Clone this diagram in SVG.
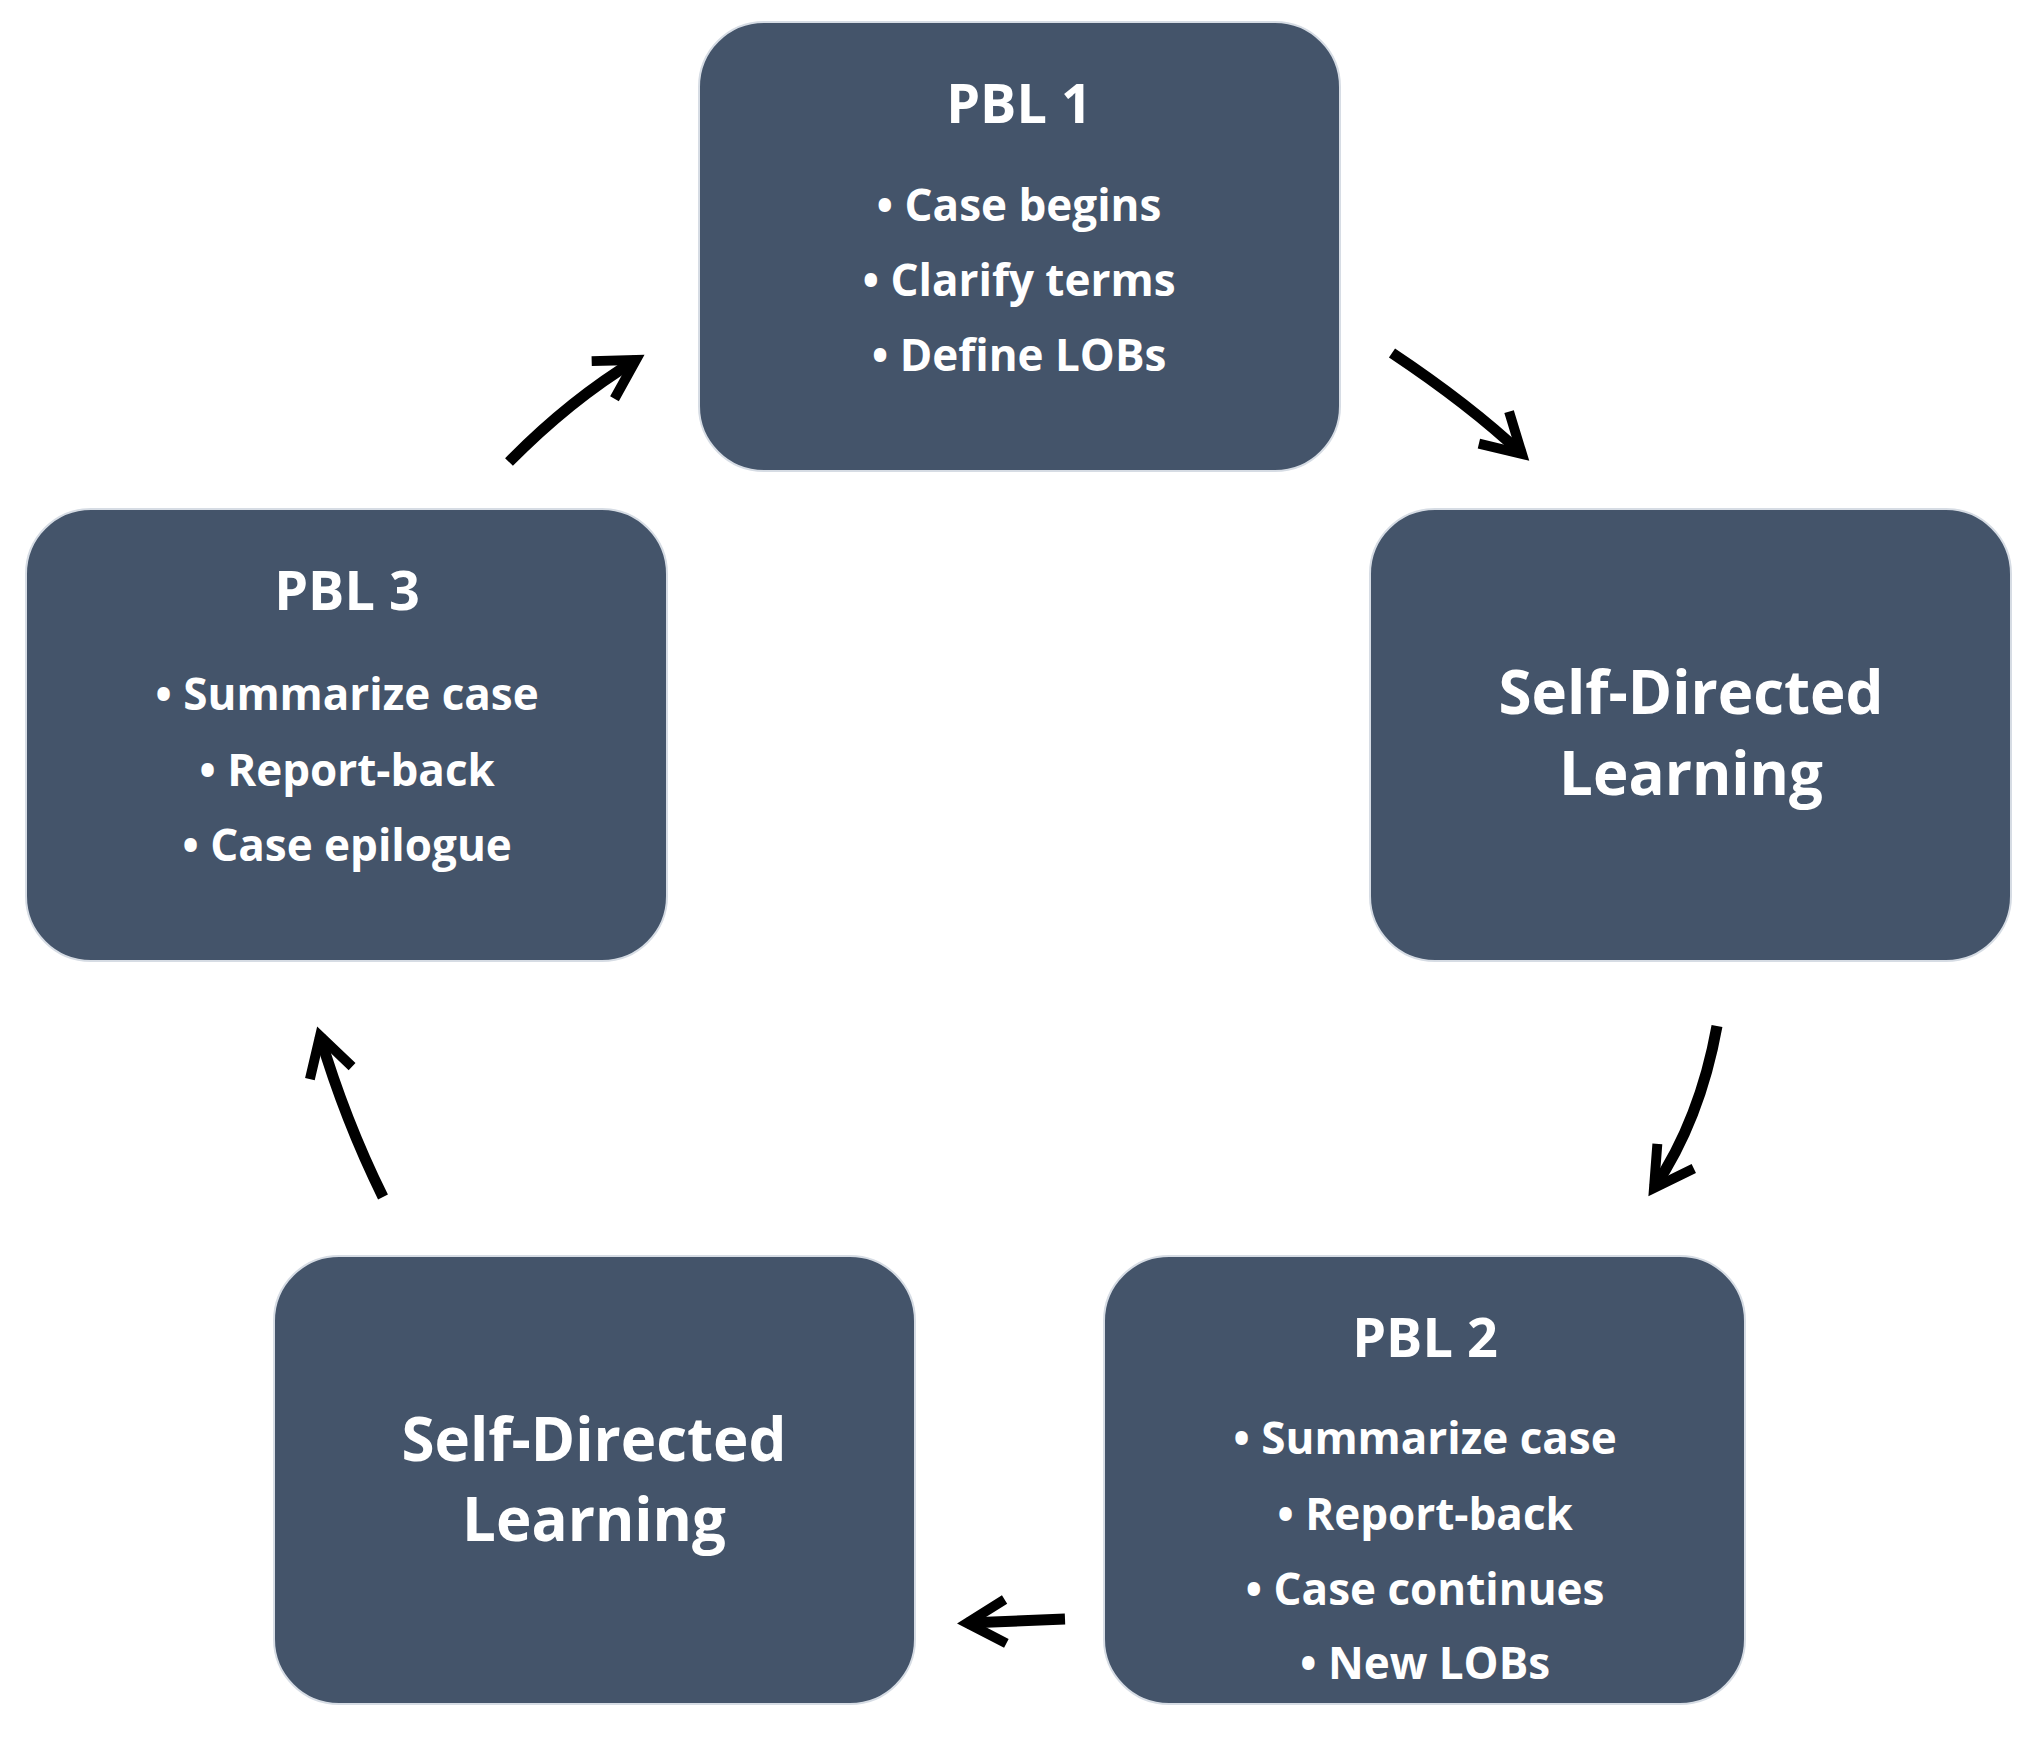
<svg xmlns="http://www.w3.org/2000/svg" width="2036" height="1743" viewBox="0 0 2036 1743">
<style>
.box{fill:#44546a;stroke:#d6dce4;stroke-width:2}
.t{font-family:"Open Sans","Liberation Sans",sans-serif;font-weight:bold;fill:#fff;text-anchor:middle}
.h{font-size:54px}.b{font-size:44px}.s{font-size:60px}
.c{fill:none;stroke:#000;stroke-width:11;stroke-linecap:butt}
</style>
<defs>
<marker id="ah" viewBox="0 0 10 10" refX="8" refY="5" markerWidth="5" markerHeight="5" orient="auto" markerUnits="strokeWidth">
<path d="M1,1 L8,5 L1,9" fill="none" stroke="#000" stroke-width="1.8" stroke-linejoin="miter"/>
</marker>
</defs>
<rect width="2036" height="1743" fill="#fff"/>
<g id="pbl1"><rect class="box" x="699" y="22" width="641" height="449" rx="65"/>
<text class="t h" x="1019" y="123">PBL 1</text>
<text class="t b" x="1019" y="221">• Case begins</text>
<text class="t b" x="1019" y="296">• Clarify terms</text>
<text class="t b" x="1019" y="371">• Define LOBs</text></g>
<g id="sdl1"><rect class="box" x="1370" y="509" width="641" height="452" rx="65"/>
<text class="t s" x="1691" y="714">Self-Directed</text>
<text class="t s" x="1691" y="795">Learning</text></g>
<g id="pbl2"><rect class="box" x="1104" y="1256" width="641" height="448" rx="65"/>
<text class="t h" x="1425" y="1357">PBL 2</text>
<text class="t b" x="1425" y="1454">• Summarize case</text>
<text class="t b" x="1425" y="1530">• Report-back</text>
<text class="t b" x="1425" y="1605">• Case continues</text>
<text class="t b" x="1425" y="1679">• New LOBs</text></g>
<g id="sdl2"><rect class="box" x="274" y="1256" width="641" height="448" rx="65"/>
<text class="t s" x="594" y="1461">Self-Directed</text>
<text class="t s" x="594" y="1541">Learning</text></g>
<g id="pbl3"><rect class="box" x="26" y="509" width="641" height="452" rx="65"/>
<text class="t h" x="347" y="610">PBL 3</text>
<text class="t b" x="347" y="710">• Summarize case</text>
<text class="t b" x="347" y="786">• Report-back</text>
<text class="t b" x="347" y="861">• Case epilogue</text></g>
<g id="connectors">
<path class="c" d="M1392,353 Q1470,405 1522,454" marker-end="url(#ah)"/>
<path class="c" d="M1717,1026 Q1700,1120 1654,1188" marker-end="url(#ah)"/>
<path class="c" d="M1065,1619 L967,1623" marker-end="url(#ah)"/>
<path class="c" d="M383,1197 Q345,1120 320,1036" marker-end="url(#ah)"/>
<path class="c" d="M509,462 Q570,400 636,360" marker-end="url(#ah)"/>
</g>
</svg>
